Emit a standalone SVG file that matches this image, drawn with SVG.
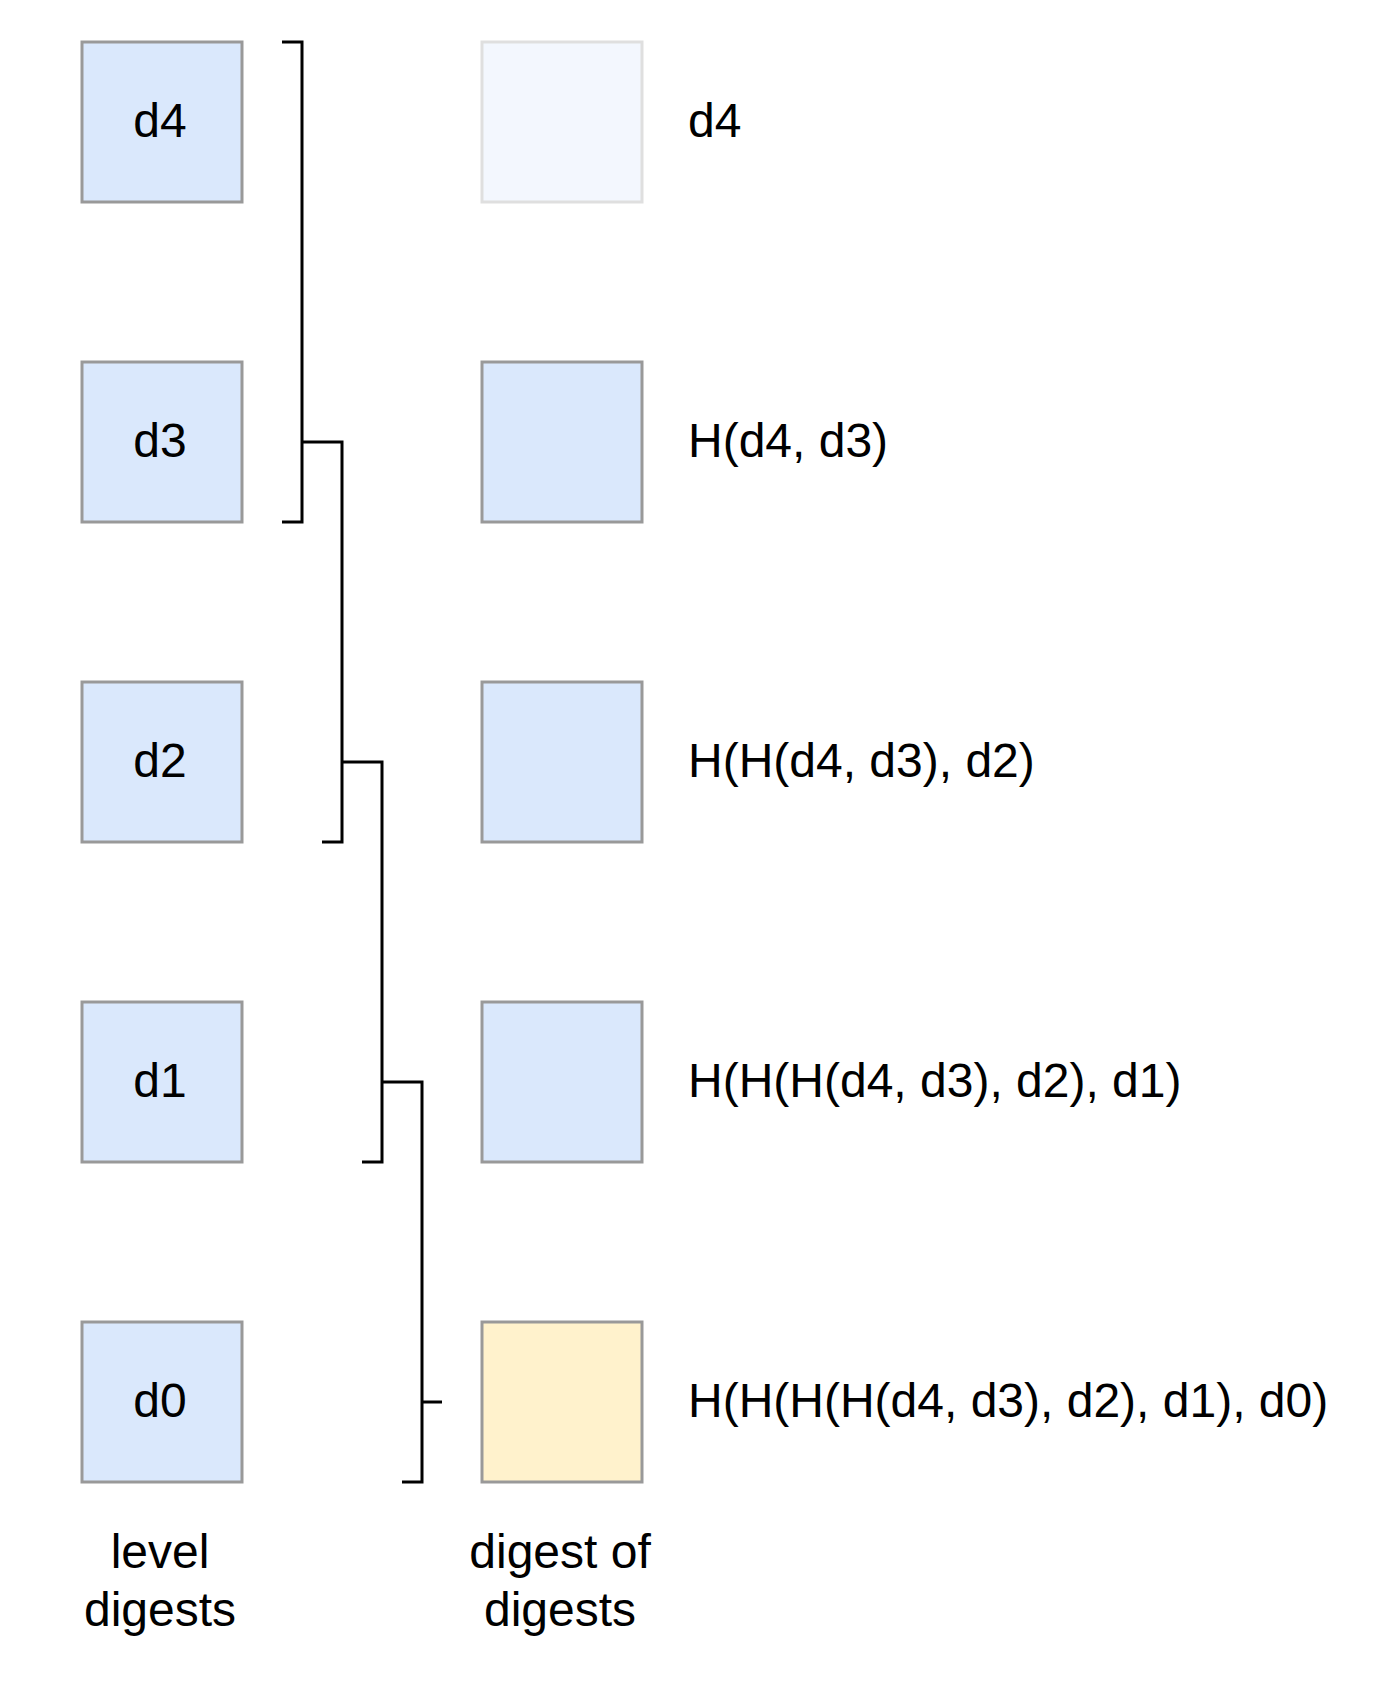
<svg xmlns="http://www.w3.org/2000/svg" width="1400" height="1684" viewBox="0 0 1400 1684">
<style>
.box{fill:#dae8fc;stroke:#999999;stroke-width:3}
.fade{opacity:0.3}
.res{fill:#fff2cc;stroke:#999999;stroke-width:3}
.t{font-family:"Liberation Sans",Arial,Helvetica,sans-serif;font-size:48px;fill:#000}
.c{text-anchor:middle}
.ln{fill:none;stroke:#000;stroke-width:3;stroke-linecap:butt;stroke-linejoin:miter}
</style>
<rect width="1400" height="1684" fill="#ffffff"/>
<g id="level-d4"><rect class="box" x="82" y="42" width="160" height="160"/><text class="t c" x="160" y="137">d4</text></g>
<g id="level-d3"><rect class="box" x="82" y="362" width="160" height="160"/><text class="t c" x="160" y="457">d3</text></g>
<g id="level-d2"><rect class="box" x="82" y="682" width="160" height="160"/><text class="t c" x="160" y="777">d2</text></g>
<g id="level-d1"><rect class="box" x="82" y="1002" width="160" height="160"/><text class="t c" x="160" y="1097">d1</text></g>
<g id="level-d0"><rect class="box" x="82" y="1322" width="160" height="160"/><text class="t c" x="160" y="1417">d0</text></g>
<g id="dig-4"><rect class="box fade" x="482" y="42" width="160" height="160"/><text class="t" x="688" y="137">d4</text></g>
<g id="dig-3"><rect class="box" x="482" y="362" width="160" height="160"/><text class="t" x="688" y="457">H(d4, d3)</text></g>
<g id="dig-2"><rect class="box" x="482" y="682" width="160" height="160"/><text class="t" x="688" y="777">H(H(d4, d3), d2)</text></g>
<g id="dig-1"><rect class="box" x="482" y="1002" width="160" height="160"/><text class="t" x="688" y="1097">H(H(H(d4, d3), d2), d1)</text></g>
<g id="dig-0"><rect class="res" x="482" y="1322" width="160" height="160"/><text class="t" x="688" y="1417">H(H(H(H(d4, d3), d2), d1), d0)</text></g>
<g id="label-level"><text class="t c" x="160" y="1568">level</text><text class="t c" x="160" y="1626">digests</text></g>
<g id="label-digest"><text class="t c" x="560" y="1568">digest of</text><text class="t c" x="560" y="1626">digests</text></g>
<g id="connectors">
<path class="ln" d="M282,42 H302 V522 H282"/>
<path class="ln" d="M302,442 H342 V842 H322"/>
<path class="ln" d="M342,762 H382 V1162 H362"/>
<path class="ln" d="M382,1082 H422 V1482 H402"/>
<path class="ln" d="M422,1402 H442"/>
</g>
</svg>
